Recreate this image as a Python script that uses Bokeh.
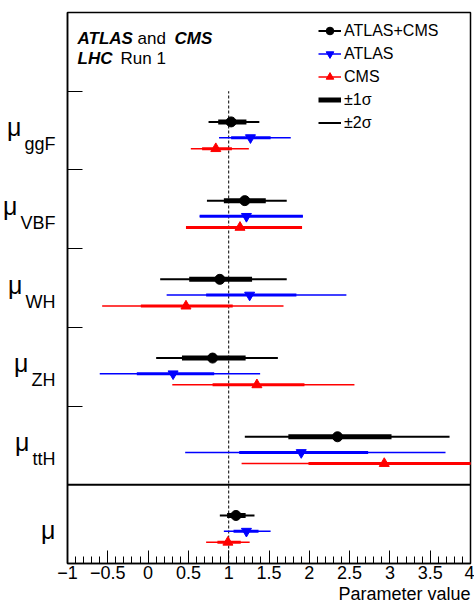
from bokeh.plotting import figure
from bokeh.layouts import row
from bokeh.models import (ColumnDataSource, Range1d, SingleIntervalTicker, FixedTicker,
                          CustomJSTickFormatter, Label, Legend, LegendItem, Span, Title)
from bokeh.core.properties import value
from bokeh.embed import file_html
from bokeh.resources import INLINE

# ---------------- data ----------------
rows = ["ggF", "VBF", "WH", "ZH", "ttH", ""]          # top -> bottom ("" = global mu)
row_index = [5, 4, 3, 2, 1, 0]

comb_val = [1.03, 1.20, 0.89, 0.80, 2.35, 1.09]
comb_lo1 = [0.87, 0.94, 0.51, 0.42, 1.74, 0.98]
comb_hi1 = [1.22, 1.46, 1.29, 1.21, 3.02, 1.21]
comb_lo2 = [0.75, 0.73, 0.15, 0.10, 1.20, 0.89]
comb_hi2 = [1.38, 1.72, 1.72, 1.61, 3.74, 1.32]

atlas_val = [1.27, 1.22, 1.26, 0.31, 1.90, 1.22]
atlas_lo1 = [1.03, 0.64, 0.72, -0.14, 1.13, 1.06]
atlas_hi1 = [1.52, 1.92, 1.84, 0.82, 2.73, 1.37]
atlas_lo2 = [0.88, 0.64, 0.23, -0.60, 0.46, 0.94]
atlas_hi2 = [1.77, 1.92, 2.46, 1.39, 3.69, 1.52]

cms_val = [0.84, 1.14, 0.47, 1.35, 2.93, 0.99]
cms_lo1 = [0.67, 0.47, -0.09, 0.80, 1.99, 0.86]
cms_hi1 = [1.04, 1.91, 1.05, 1.94, 4.10, 1.15]
cms_lo2 = [0.53, 0.47, -0.57, 0.30, 1.16, 0.72]
cms_hi2 = [1.25, 1.91, 1.68, 2.56, 5.20, 1.26]

SM_VALUE = 1.0
X_MIN, X_MAX = -1.0, 4.0

FONT = "Liberation Sans"
TOTAL_W, TOTAL_H = 474, 607
LEFT_W = 56
TOP_B, BOTTOM_B = 12, 44

yr = Range1d(0, len(rows) + 1)

p = figure(width=TOTAL_W - LEFT_W, height=TOTAL_H, output_backend="svg", toolbar_location=None,
           x_range=Range1d(X_MIN, X_MAX), y_range=yr,
           min_border_left=11, min_border_right=4, min_border_top=TOP_B, min_border_bottom=BOTTOM_B,
           background_fill_color="white", border_fill_color="white")
p.xgrid.visible = False
p.ygrid.visible = False
p.outline_line_color = "black"
p.outline_line_width = 1.5

# x axis
xa = p.xaxis[0]
xa.ticker = SingleIntervalTicker(interval=0.5, num_minor_ticks=5)
xa.formatter = CustomJSTickFormatter(code="return tick < 0 ? '\u2212' + String(Math.abs(tick)) : String(tick);")
xa.major_tick_in = 13
xa.major_tick_out = 0
xa.minor_tick_in = 7
xa.minor_tick_out = 0
xa.major_tick_line_color = "black"
xa.minor_tick_line_color = "black"
xa.axis_line_color = "black"
xa.axis_line_width = 1.5
xa.major_label_text_font = FONT
xa.major_label_text_font_size = "18px"
xa.major_label_text_color = "black"
xa.major_label_standoff = 2

# y axis: only slot-boundary ticks, no labels
ya = p.yaxis[0]
ya.ticker = FixedTicker(ticks=[k + 1 for k in row_index[:-1]])
ya.formatter = CustomJSTickFormatter(code="return '';")
ya.major_label_standoff = 0
ya.major_tick_in = 15
ya.major_tick_out = 0
ya.minor_tick_line_color = None
ya.major_tick_line_color = "black"
ya.axis_line_color = "black"
ya.axis_line_width = 1.5

# axis title, right aligned below the axis
p.add_layout(Title(text="Parameter value", align="right", text_font=FONT, text_font_size="18px",
                   text_font_style="normal", text_color="black", standoff=0), "below")

# SM reference dashed line and panel divider
p.segment(x0=[SM_VALUE], y0=[0], x1=[SM_VALUE], y1=[len(rows)], line_color="black",
          line_width=1, line_dash="3 2")
p.add_layout(Span(location=1, dimension="width", line_color="black", line_width=2))

offsets = {"comb": 0.61, "atlas": 0.41, "cms": 0.27}

def series(key, val, lo1, hi1, lo2, hi2, color, marker, w1, w2, msize):
    y = [k + offsets[key] for k in row_index]
    src = ColumnDataSource(dict(y=y, val=val, lo1=lo1, hi1=hi1, lo2=lo2, hi2=hi2))
    r2 = p.segment(x0="lo2", y0="y", x1="hi2", y1="y", source=src, line_color=color, line_width=w2)
    r1 = p.segment(x0="lo1", y0="y", x1="hi1", y1="y", source=src, line_color=color, line_width=w1)
    rm = p.scatter(x="val", y="y", source=src, marker=marker, size=msize,
                   fill_color=color, line_color=color)
    return r2, r1, rm

c2, c1, cm = series("comb", comb_val, comb_lo1, comb_hi1, comb_lo2, comb_hi2, "black", "circle", 5, 2, 10)
a2, a1, am = series("atlas", atlas_val, atlas_lo1, atlas_hi1, atlas_lo2, atlas_hi2, "#0000ff", "inverted_triangle", 3, 1.5, 10)
s2, s1, sm = series("cms", cms_val, cms_lo1, cms_hi1, cms_lo2, cms_hi2, "#ff0000", "triangle", 3, 1.5, 10)

legend = Legend(items=[
    LegendItem(label="ATLAS+CMS", renderers=[c2, cm]),
    LegendItem(label="ATLAS", renderers=[a2, am]),
    LegendItem(label="CMS", renderers=[s2, sm]),
    LegendItem(label="\u00b11\u03c3", renderers=[c1]),
    LegendItem(label="\u00b12\u03c3", renderers=[c2]),
], location=(251, 431), padding=0, spacing=4, glyph_width=23, glyph_height=19,
   label_height=19, label_standoff=3, label_text_font=FONT, label_text_font_size="16px",
   label_text_color="black", border_line_color=None, background_fill_alpha=0,
   margin=0)
p.add_layout(legend)

# header texts
top = len(rows) + 1
hdr = [("ATLAS", "bold italic", 10, -25.5), ("and", "normal", 70, -25.5), ("CMS", "bold italic", 107, -25.5),
       ("LHC", "bold italic", 10, -46), ("Run 1", "normal", 53, -46)]
for txt, style, dx, dy in hdr:
    p.add_layout(Label(x=X_MIN, y=top, x_offset=dx, y_offset=dy, text=txt, text_font=FONT,
                       text_font_style=style, text_font_size="17px", text_color="black",
                       text_baseline="alphabetic", text_align="left"))

# ---------------- left label strip (mu with subscripts) ----------------
lab = figure(width=LEFT_W, height=TOTAL_H, output_backend="svg", toolbar_location=None,
             x_range=Range1d(0, LEFT_W), y_range=yr, x_axis_type=None, y_axis_type=None,
             min_border_left=0, min_border_right=0, min_border_top=TOP_B, min_border_bottom=BOTTOM_B,
             background_fill_color="white", border_fill_color="white")
lab.outline_line_color = None
lab.xgrid.visible = False
lab.ygrid.visible = False

char_w = {"g": 0.556, "F": 0.611, "V": 0.667, "B": 0.667, "W": 0.944, "H": 0.722, "Z": 0.611, "t": 0.278}
SUB_SIZE = 18
SUB_RIGHT = LEFT_W - 1
mu_x, mu_y, sub_x, sub_y, sub_t = [], [], [], [], []
for name, k in zip(rows, row_index):
    if name:
        sub_w = sum(char_w.get(c, 0.556) for c in name) * SUB_SIZE
        sub_x.append(SUB_RIGHT)
        sub_y.append(k + 1 - 0.673)
        sub_t.append(name)
        mu_x.append(SUB_RIGHT - sub_w - 3)
        mu_y.append(k + 1 - 0.457)
    else:
        mu_x.append(SUB_RIGHT)
        mu_y.append(k + 1 - 0.572)

lab.text(x=sub_x, y=sub_y, text=sub_t, text_font=value(FONT), text_font_size=f"{SUB_SIZE}px",
         text_color="black", text_align="right", text_baseline="alphabetic")
lab.text(x=mu_x, y=mu_y, text=["\u03bc"] * len(mu_x), text_font=value(FONT), text_font_size="25px",
         text_color="black", text_align="right", text_baseline="alphabetic")

layout = row(lab, p, spacing=0)
open("out.html", "w").write(file_html(layout, INLINE))
